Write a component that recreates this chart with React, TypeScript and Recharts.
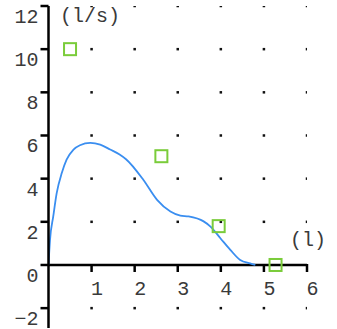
import React from "react";
import {
  ComposedChart,
  Line,
  Scatter,
  XAxis,
  YAxis,
  ReferenceLine,
} from "recharts";

// measured flow-volume curve (volume in l, flow in l/s)
const curveVolume = [
  0, 0.035, 0.11, 0.19, 0.31, 0.42, 0.58, 0.73, 0.97, 1.2, 1.43, 1.65, 1.8,
  2.2, 2.52, 2.83, 3.06, 3.25, 3.6, 3.76, 3.99, 4.22, 4.45, 4.68, 4.8,
];
const curveFlow = [
  0, 1.16, 2.25, 3.33, 4.27, 4.88, 5.35, 5.55, 5.66, 5.58, 5.35, 5.12, 4.9,
  3.95, 3.02, 2.48, 2.29, 2.25, 2.02, 1.78, 1.24, 0.7, 0.23, 0.07, 0,
];

// predicted values (green squares)
const predVolume = [0.5, 2.62, 3.95, 5.27];
const predFlow = [10, 5.04, 1.8, 0];

const xTicks = [1, 2, 3, 4, 5, 6];
const yTicks = [-2, 0, 2, 4, 6, 8, 10, 12];
const dotRowsY = [-2, 2, 4, 6, 8, 10, 12];

const W = 337;
const H = 329;
const TOP = 6;
const X_AXIS_H = 1;
const Y_MIN = -2.92;
const Y_MAX = 12;
const PLOT_H = H - TOP - X_AXIS_H;
const ORIGIN_Y = TOP + (Y_MAX / (Y_MAX - Y_MIN)) * PLOT_H;

const TEXT = "#3a3a3a";
const textStyle = { fontFamily: "Liberation Mono", fontSize: 20 };

const curve = curveVolume.map((x, i) => ({ x, y: curveFlow[i] }));
const pred = predVolume.map((x, i) => ({ x, y: predFlow[i] }));
const gridDots = xTicks.flatMap((x) => dotRowsY.map((y) => ({ x, y })));

const fmt = (v: number) => (v < 0 ? "\u2212" + Math.abs(v) : String(v));

function XTick(props: any) {
  const { x, payload } = props;
  return (
    <g>
      <line
        x1={x}
        x2={x}
        y1={ORIGIN_Y - 1}
        y2={ORIGIN_Y + 7}
        stroke="#000"
        strokeWidth={2.5}
      />
      <text
        x={x + 5.5}
        y={ORIGIN_Y + 30}
        textAnchor="middle"
        style={textStyle}
        fill={TEXT}
      >
        {payload.value}
      </text>
    </g>
  );
}

function YTick(props: any) {
  const { y, payload } = props;
  return (
    <text x={38.5} y={y + 17} textAnchor="end" style={textStyle} fill={TEXT}>
      {fmt(payload.value)}
    </text>
  );
}

const dotShape = (p: any) => (
  <rect x={p.cx - 1.25} y={p.cy - 1.25} width={2.5} height={2.5} fill="#111" />
);

const squareShape = (p: any) => (
  <rect
    x={p.cx - 6}
    y={p.cy - 6}
    width={12}
    height={12}
    fill="none"
    stroke="#7acc3a"
    strokeWidth={2}
  />
);

export default function App() {
  return (
    <div style={{ position: "absolute", left: 0, top: 0, background: "#fff" }}>
      <ComposedChart
        width={W}
        height={H}
        margin={{ top: TOP, right: 30, bottom: 0, left: 0 }}
      >
        <XAxis
          type="number"
          dataKey="x"
          domain={[0, 6]}
          ticks={xTicks}
          height={X_AXIS_H}
          axisLine={false}
          tickLine={false}
          tick={<XTick />}
          interval={0}
          allowDataOverflow
        />
        <YAxis
          type="number"
          dataKey="y"
          domain={[Y_MIN, Y_MAX]}
          ticks={yTicks}
          width={48.5}
          interval={0}
          axisLine={{ stroke: "#000", strokeWidth: 2.5 }}
          tickLine={{ stroke: "#000", strokeWidth: 2.5 }}
          tickSize={8}
          tick={<YTick />}
          allowDataOverflow
        />
        <Scatter
          data={gridDots}
          dataKey="y"
          shape={dotShape}
          isAnimationActive={false}
        />
        <ReferenceLine
          segment={[
            { x: 0, y: 0 },
            { x: 6, y: 0 },
          ]}
          stroke="#000"
          strokeWidth={2.5}
        />
        <Line
          data={curve}
          dataKey="y"
          type="monotone"
          stroke="#3a8ef0"
          strokeWidth={1.8}
          dot={false}
          isAnimationActive={false}
        />
        <Scatter
          data={pred}
          dataKey="y"
          shape={squareShape}
          isAnimationActive={false}
        />
        <text x={60} y={22} style={textStyle} fill={TEXT}>
          (l/s)
        </text>
        <text x={290} y={246} style={textStyle} fill={TEXT}>
          (l)
        </text>
      </ComposedChart>
    </div>
  );
}
